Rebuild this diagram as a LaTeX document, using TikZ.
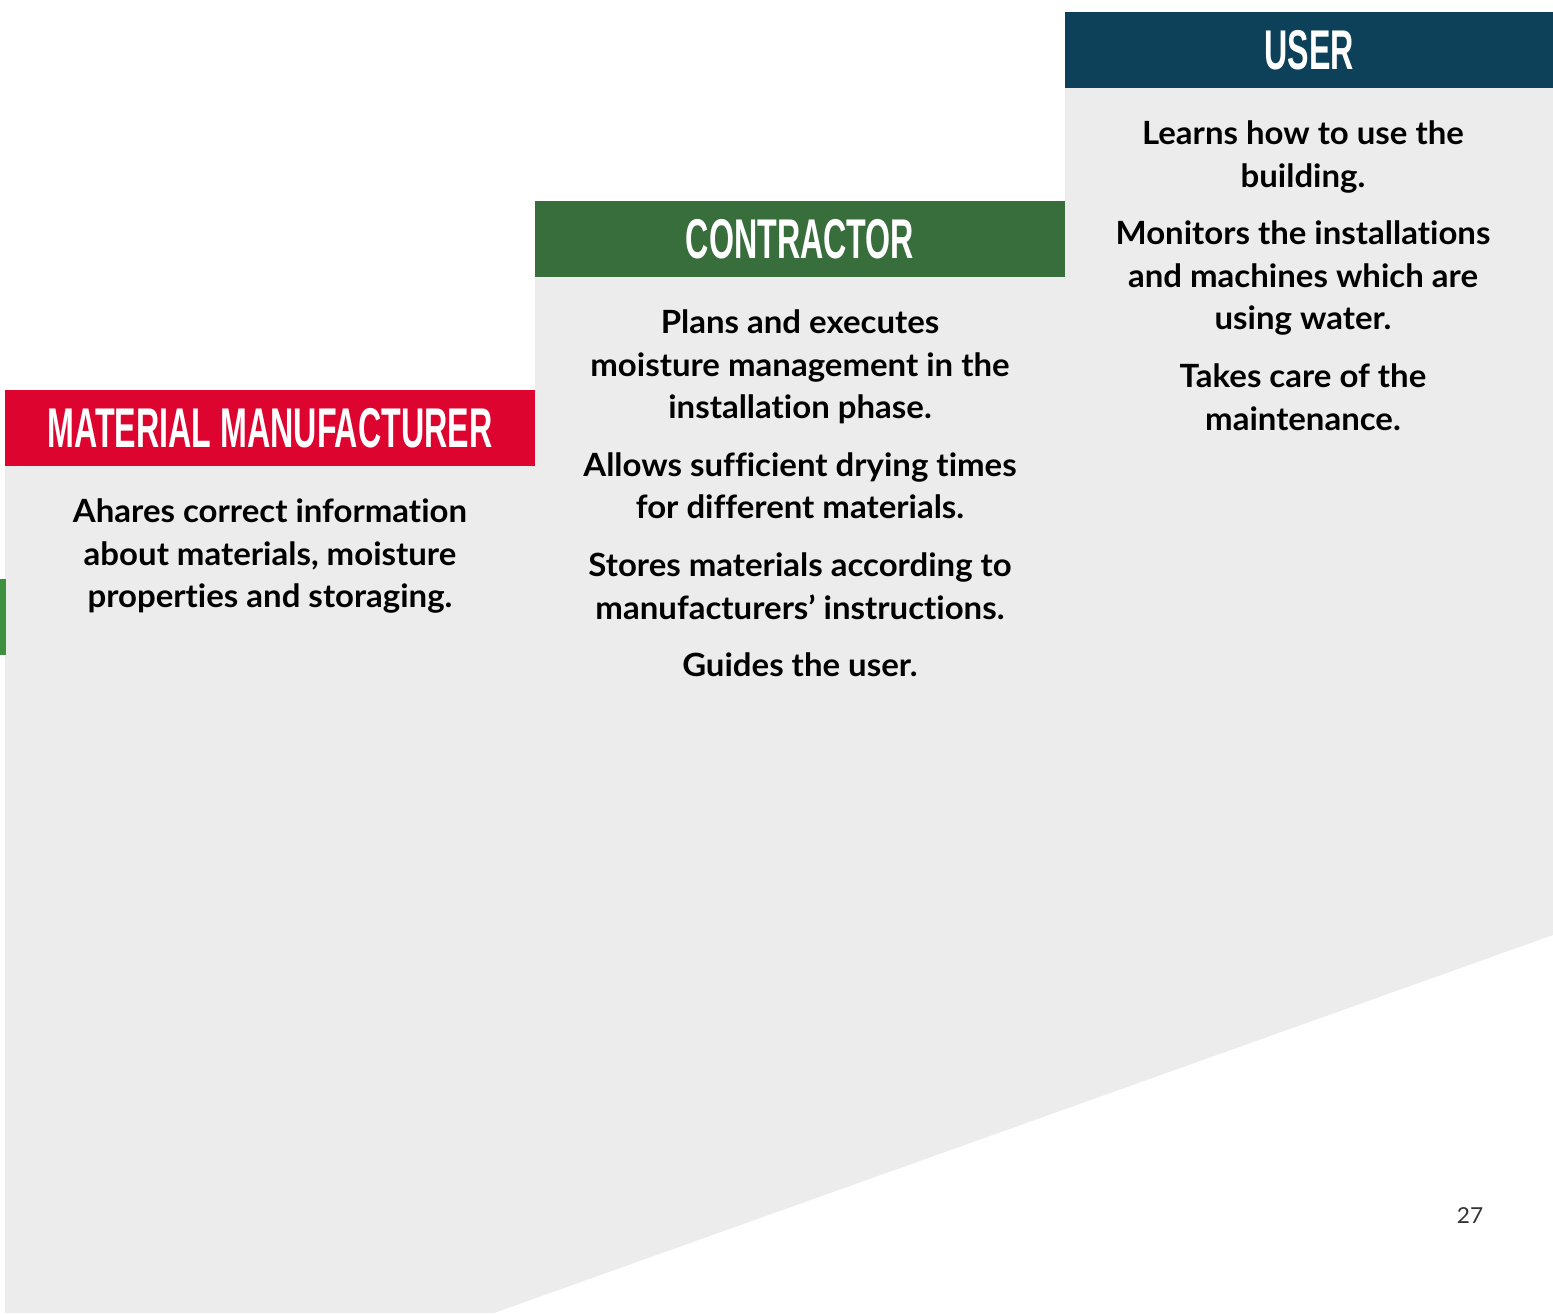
\documentclass[tikz,border=0pt]{standalone}
\usepackage{fontspec}
\usepackage{xcolor}
\setmainfont{Lato}[Ligatures=NoCommon, FakeStretch=1.03]
\newfontfamily\headfont[FakeStretch=0.575]{Liberation Sans}
\usetikzlibrary{positioning}
\definecolor{redhead}{RGB}{221,4,47}
\definecolor{greenhead}{RGB}{56,109,60}
\definecolor{bluehead}{RGB}{13,65,89}
\definecolor{greybg}{RGB}{236,236,236}
\definecolor{greenbar}{RGB}{63,145,65}

\begin{document}
\begin{tikzpicture}[x=0.5pt,y=-0.5pt,
  head/.style={rectangle, inner sep=0pt, minimum height=38pt, text=white, font=\headfont\bfseries\fontsize{28}{30}\selectfont},
  body/.style={align=center, inner sep=0pt, font=\bfseries\fontsize{16}{21.3}\selectfont}]
\useasboundingbox (0,0) rectangle (1553,1313);

% grey steps
\fill[greybg] (5,466) -- (5,1313) -- (494,1313) -- (1553,935) -- (1553,88) -- (1065,88) -- (1065,277) -- (535,277) -- (535,466) -- cycle;
\fill[greenbar] (0,579) rectangle (6,655);

% headers
\node[head, fill=redhead, minimum width=265pt] (manufacturer) at (270,428) {MATERIAL MANUFACTURER};
\node[head, fill=greenhead, minimum width=265pt] (contractor) at (800,239) {CONTRACTOR};
\node[head, fill=bluehead, minimum width=244pt] (user) at (1309,50) {USER};

% texts
\node[body, below=16pt of manufacturer] (manufacturertext) {Ahares correct information\\about materials, moisture\\properties and storaging.};
\node[body, below=16pt of contractor] (contractortext) {Plans and executes\\moisture management in the\\installation phase.\\[7.5pt]
Allows sufficient drying times\\for different materials.\\[7.5pt]
Stores materials according to\\manufacturers’ instructions.\\[7.5pt]
Guides the user.};
\node[body, below=16pt of user, xshift=-3pt] (usertext) {Learns how to use the\\building.\\[7.5pt]
Monitors the installations\\and machines which are\\using water.\\[7.5pt]
Takes care of the\\maintenance.};

\node[text=black!80, font=\fontsize{11}{13}\selectfont] (pagenumber) at (1470,1216) {27};
\end{tikzpicture}
\end{document}
